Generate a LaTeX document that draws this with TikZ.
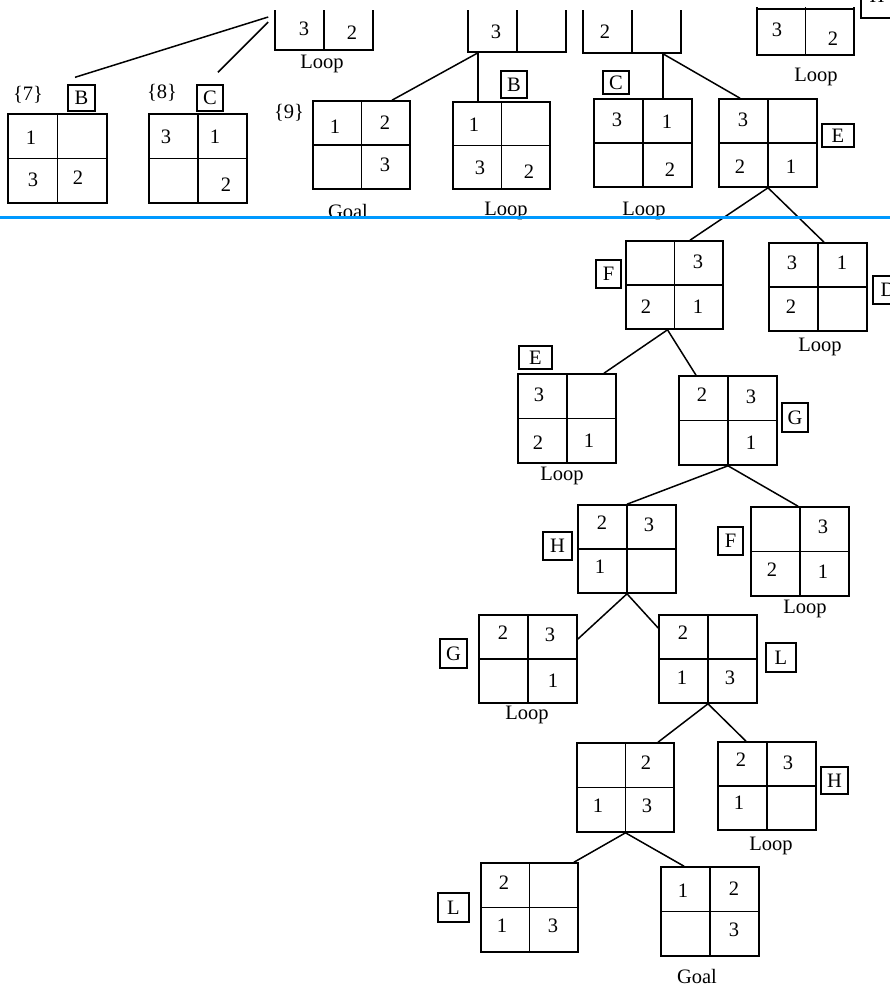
\documentclass[tikz,border=0pt]{standalone}
\usepackage{fontspec}
\setmainfont{Liberation Serif}
\usetikzlibrary{calc}
\definecolor{sepblue}{RGB}{0,153,255}
\tikzset{
  state/.style={draw, line width=1.6pt, minimum width=98pt, minimum height=88pt, inner sep=0pt,
    path picture={\draw[line width=1.8pt] (path picture bounding box.north) -- (path picture bounding box.south)
      (path picture bounding box.west) -- (path picture bounding box.east);}},
  lbl/.style={draw, line width=1.4pt, inner sep=0pt, minimum width=27pt, minimum height=27pt},
  num/.style={inner sep=0pt},
  captxt/.style={inner sep=0pt},
  conn/.style={line width=1.5pt}
}
\begin{document}
\begin{tikzpicture}[x=1pt,y=-1pt,font=\fontsize{20.5}{24}\selectfont]
\clip (0,0) rectangle (890,989);
\useasboundingbox (0,0) rectangle (890,989);
\fill[white] (0,0) rectangle (890,989);

% ---- top partial boxes ----
\begin{scope}
\clip (0,10.5) rectangle (890,120);
\node[state] (t1) at (324,6) {};
\node[state] (t2) at (517,8) {};
\node[state] (t3) at (632,9) {};
\end{scope}
\begin{scope}
\clip (0,7.5) rectangle (890,120);
\node[state, minimum height=92pt, minimum width=97pt] (t4) at (805.5,9) {};
\end{scope}
\node[lbl, minimum width=32pt, minimum height=28pt] (lbTR) at (877,4) {};
\node[num] at (877,-4) {H};

\node[num] at (304,29) {3};
\node[num] at (352,33) {2};
\node[captxt] at (322,64) {Loop};
\node[num] at (496,32) {3};
\node[num] at (605,32) {2};
\node[num] at (777,30) {3};
\node[num] at (833,39) {2};
\node[captxt] at (816,77) {Loop};

% ---- second row ----
\node[num] at (28,95) {\{7\}};
\node[lbl, minimum height=26pt] (lb7) at (81.5,98) {B};
\node[state, minimum width=99pt, minimum height=89pt] (b7) at (57.5,158.5) {};
\node[num] at (31,138) {1};
\node[num] at (33,180) {3};
\node[num] at (78,178) {2};

\node[num] at (162,93) {\{8\}};
\node[lbl, minimum width=26pt, minimum height=26pt] (lb8) at (210,98) {C};
\node[state, minimum height=89pt] (b8) at (198,158.5) {};
\node[num] at (166,137) {3};
\node[num] at (215,137) {1};
\node[num] at (226,185) {2};

\node[num] at (289,113) {\{9\}};
\node[state, minimum width=97pt] (b9) at (361.5,145) {};
\node[num] at (335,127) {1};
\node[num] at (385,123) {2};
\node[num] at (385,165) {3};
\node[captxt] at (348,211) {Goal};

\node[lbl, minimum width=26pt] (lb10) at (514,84.5) {B};
\node[state, minimum width=97pt, minimum height=87pt] (b10) at (501.5,145.5) {};
\node[num] at (474,125) {1};
\node[num] at (480,168) {3};
\node[num] at (529,172) {2};
\node[captxt] at (506,211) {Loop};

\node[lbl, minimum width=26pt, minimum height=23pt] (lb11) at (616,82.5) {C};
\node[state] (b11) at (643,143) {};
\node[num] at (617,120) {3};
\node[num] at (667,122) {1};
\node[num] at (670,170) {2};
\node[captxt] at (644,211) {Loop};

\node[lbl, minimum width=32pt, minimum height=23pt] (lb12) at (838,135.5) {E};
\node[state] (b12) at (768,143) {};
\node[num] at (743,120) {3};
\node[num] at (740,167) {2};
\node[num] at (791,167) {1};

% ---- lower tree ----
\node[lbl, minimum width=25pt, minimum height=28pt] (lb13) at (608.5,274) {F};
\node[state, minimum width=97pt] (b13) at (674.5,285) {};
\node[num] at (698,262) {3};
\node[num] at (646,307) {2};
\node[num] at (698,307) {1};

\node[lbl, minimum width=30pt, minimum height=28pt] (lb14) at (888,290) {D};
\node[state] (b14) at (818,287) {};
\node[num] at (792,263) {3};
\node[num] at (842,263) {1};
\node[num] at (791,307) {2};
\node[captxt] at (820,347) {Loop};

\node[lbl, minimum width=33pt, minimum height=23pt] (lb15) at (535.5,357.5) {E};
\node[state, minimum height=89pt] (b15) at (567,418.5) {};
\node[num] at (539,395) {3};
\node[num] at (538,443) {2};
\node[num] at (589,441) {1};
\node[captxt] at (562,476) {Loop};

\node[lbl, minimum width=26pt, minimum height=29pt] (lb16) at (795,417.5) {G};
\node[state, minimum height=89pt] (b16) at (728,420.5) {};
\node[num] at (702,395) {2};
\node[num] at (751,397) {3};
\node[num] at (751,443) {1};

\node[lbl, minimum width=29pt, minimum height=28pt] (lb17) at (557.5,546) {H};
\node[state] (b17) at (627,549) {};
\node[num] at (602,523) {2};
\node[num] at (649,525) {3};
\node[num] at (600,567) {1};

\node[lbl, minimum width=25pt, minimum height=28pt] (lb18) at (730.5,541) {F};
\node[state, minimum height=89pt] (b18) at (800,551.5) {};
\node[num] at (823,527) {3};
\node[num] at (772,570) {2};
\node[num] at (823,572) {1};
\node[captxt] at (805,609) {Loop};

\node[lbl, minimum width=27pt, minimum height=29pt] (lb19) at (453.5,653.5) {G};
\node[state] (b19) at (528,659) {};
\node[num] at (503,633) {2};
\node[num] at (550,635) {3};
\node[num] at (553,681) {1};
\node[captxt] at (527,715) {Loop};

\node[lbl, minimum width=30pt, minimum height=29pt] (lb20) at (781,657.5) {L};
\node[state] (b20) at (708,659) {};
\node[num] at (683,633) {2};
\node[num] at (682,678) {1};
\node[num] at (730,678) {3};

\node[state, minimum width=97pt, minimum height=89pt] (b21) at (625.5,787.5) {};
\node[num] at (646,763) {2};
\node[num] at (598,806) {1};
\node[num] at (647,806) {3};

\node[lbl, minimum width=27pt, minimum height=27pt] (lb22) at (834.5,780.5) {H};
\node[state] (b22) at (767,786) {};
\node[num] at (741,760) {2};
\node[num] at (788,763) {3};
\node[num] at (739,803) {1};
\node[captxt] at (771,846) {Loop};

\node[lbl, minimum width=31pt, minimum height=29pt] (lb23) at (453.5,907.5) {L};
\node[state, minimum width=97pt, minimum height=89pt] (b23) at (529.5,907.5) {};
\node[num] at (504,883) {2};
\node[num] at (502,926) {1};
\node[num] at (553,926) {3};

\node[state, minimum height=89pt] (b24) at (710,911.5) {};
\node[num] at (683,891) {1};
\node[num] at (734,889) {2};
\node[num] at (734,930) {3};
\node[captxt] at (697,976) {Goal};

% ---- connectors ----
\draw[conn] ($(t1.west)+(-6,11)$) -- ($(lb7.north)+(-6.5,-7)$);
\draw[conn] ($(t1.west)+(-6,16)$) -- ($(lb8.north)+(8,-12)$);
\draw[conn] ($(t2.south)+(-39,0)$) -- ($(b9.north)+(30.5,0)$);
\draw[conn] ($(t2.south)+(-39,0)$) -- ($(b10.north)+(-23.5,0)$);
\draw[conn] ($(t3.south)+(31,0)$) -- ($(b11.north)+(20,0)$);
\draw[conn] ($(t3.south)+(31,0)$) -- ($(b12.north)+(-28,0)$);
\draw[conn] (b12.south) -- ($(b13.north)+(15.5,0)$);
\draw[conn] (b12.south) -- ($(b14.north)+(6,0)$);
\draw[conn] ($(b13.south)+(-7,0)$) -- ($(b15.north)+(37,0)$);
\draw[conn] ($(b13.south)+(-7,0)$) -- ($(b16.north)+(-32,0)$);
\draw[conn] (b16.south) -- (b17.north);
\draw[conn] (b16.south) -- ($(b18.north)+(-2,0)$);
\draw[conn] (b17.south) -- ($(b19.east)+(-1,-19)$);
\draw[conn] (b17.south) -- ($(b20.west)+(0,-31)$);
\draw[conn] (b20.south) -- ($(b21.north)+(32.5,0)$);
\draw[conn] (b20.south) -- ($(b22.north)+(-21,0)$);
\draw[conn] (b21.south) -- ($(b23.north)+(44.5,0)$);
\draw[conn] (b21.south) -- ($(b24.north)+(-26,0)$);

% ---- separator ----
\draw[sepblue, line width=3pt] (0,217) -- (890,217);
\end{tikzpicture}
\end{document}
